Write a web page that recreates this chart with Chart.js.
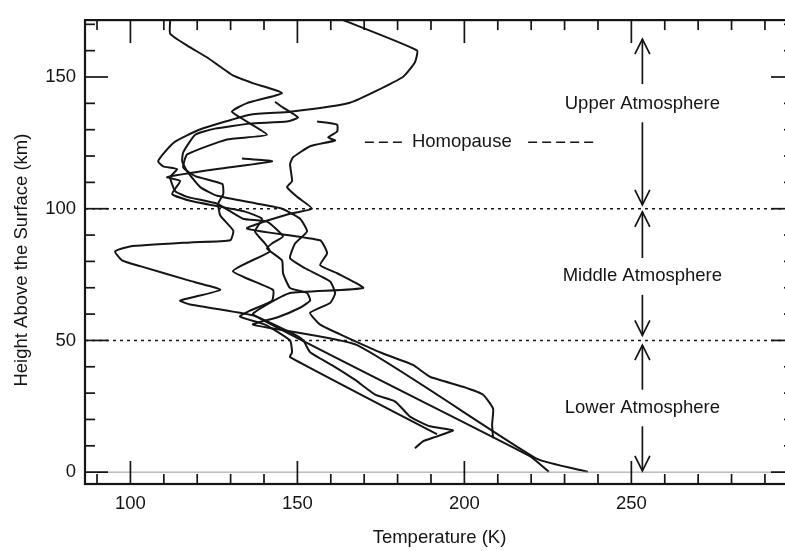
<!DOCTYPE html>
<html>
<head>
<meta charset="utf-8">
<script src="https://cdn.jsdelivr.net/npm/chart.js@4.4.1/dist/chart.umd.min.js"></script>
<style>
  html, body { margin: 0; padding: 0; background: #fff; overflow: hidden; }
  #wrap { position: relative; width: 800px; height: 551px; }
</style>
</head>
<body>
<div id="wrap"><canvas id="chart"></canvas></div>
<script>
// Perfis de temperatura: pares [temperatura (K), altura (km)]
const profileA = [
  [111.9, 171.5], [111.9, 166.4], [117.0, 161.9], [123.0, 157.4], [130.7, 150.6],
  [136.8, 147.6], [145.4, 143.9], [134.9, 140.1], [130.4, 136.8], [140.9, 128.1],
  [128.9, 126.3], [117.0, 120.6], [115.8, 115.7], [119.4, 112.4], [127.5, 109.4],
  [127.8, 105.6], [126.3, 101.9], [126.9, 97.4], [130.8, 91.7], [129.9, 88.0],
  [117.9, 87.2], [99.9, 85.7], [95.4, 83.8], [97.5, 80.4], [102.9, 78.2],
  [117.9, 72.6], [126.9, 69.2], [114.9, 65.1], [117.9, 63.6], [136.7, 59.5],
  [147.8, 53.1], [151.7, 50.1], [153.8, 45.5], [161.3, 39.9], [167.3, 35.0],
  [173.3, 29.4], [179.3, 26.8], [183.7, 21.1], [189.7, 17.4], [196.6, 15.9],
  [191.8, 13.6], [187.6, 11.7], [185.2, 9.1]
];
const profileB = [
  [163.7, 171.6], [185.8, 160.1], [185.2, 155.6], [181.6, 150.0], [165.7, 140.2],
  [147.8, 136.8], [135.8, 135.7], [120.6, 130.0], [113.4, 125.5], [110.4, 121.7],
  [108.3, 118.0], [109.8, 116.1], [114.0, 115.0], [111.9, 112.0], [113.4, 106.7],
  [117.0, 104.5], [126.0, 101.9], [133.7, 96.2], [140.9, 95.1], [145.7, 89.5],
  [142.4, 86.8], [140.9, 84.9], [145.4, 80.4], [145.7, 75.5], [147.8, 69.9],
  [152.9, 68.0], [153.8, 65.1], [150.8, 62.4], [143.9, 58.7], [136.7, 56.0],
  [167.9, 48.2], [221.8, 5.0], [237.0, 0.1]
];
const profileC = [
  [143.3, 140.6], [145.7, 138.4], [150.2, 134.6], [146.9, 133.1], [135.8, 132.3],
  [125.3, 130.4], [119.4, 128.1], [115.8, 121.4], [115.5, 118.0], [117.0, 114.2],
  [120.9, 108.2], [126.0, 104.9], [138.0, 101.9], [145.4, 100.0], [150.8, 96.2],
  [152.9, 91.4], [149.3, 86.8], [147.8, 81.2], [152.3, 77.4], [159.8, 72.4],
  [161.3, 67.9], [159.8, 64.2], [153.8, 60.5], [156.8, 56.0], [162.8, 52.3],
  [166.7, 50.0], [174.7, 45.5], [184.6, 40.7], [189.7, 36.2], [199.6, 32.4],
  [205.6, 29.4], [208.6, 24.1], [208.3, 18.1], [208.6, 12.9]
];
const profileD = [
  [155.9, 133.1], [161.9, 131.9], [161.9, 129.3], [159.2, 127.0], [161.3, 125.9],
  [153.8, 123.7], [148.7, 119.5], [147.8, 116.9], [148.4, 110.5], [146.9, 108.2],
  [149.9, 104.5], [154.4, 100.0], [147.8, 98.1], [134.9, 92.5], [156.8, 88.0],
  [158.9, 83.1], [156.8, 78.6], [161.9, 75.5], [169.7, 69.9], [147.8, 68.0],
  [140.3, 63.2], [136.7, 59.8], [219.6, 6.1], [225.3, 0.1]
];
const profileE = [
  [133.4, 119.1], [142.4, 118.0], [127.8, 115.4], [111.0, 112.0], [114.9, 110.5],
  [112.5, 105.6], [117.9, 103.0], [125.4, 101.1], [134.3, 98.9], [139.4, 96.2],
  [137.3, 91.4], [140.3, 86.8], [141.8, 83.8], [130.7, 76.3], [142.7, 69.2],
  [142.4, 65.1], [135.8, 61.3], [132.8, 59.1], [140.3, 56.0], [147.8, 50.0],
  [148.4, 45.5], [147.8, 43.7], [191.8, 14.4]
];
const profiles = [profileA, profileB, profileC, profileD, profileE];

// Eixos
const xRange = [86.4, 298.7];
const yRange = [-4.5, 171.6];
const xTickValues = [90, 100, 110, 120, 130, 140, 150, 160, 170, 180, 190, 200, 210, 220, 230, 240, 250, 260, 270, 280, 290];
const xTickLabels = [100, 150, 200, 250];
const yTickValues = [0, 10, 20, 30, 40, 50, 60, 70, 80, 90, 100, 110, 120, 130, 140, 150, 160, 170];
const yTickLabels = [0, 50, 100, 150];
const boundaryHeights = [50, 100];

// Anotações (em unidades dos eixos)
const arrowTemp = 253.3;
const layerLabels = ['Upper Atmosphere', 'Middle Atmosphere', 'Lower Atmosphere'];
const layerLabelHeights = [139.7, 74.5, 24.2];
const layerArrows = [
  [147.3, 164.4], [132.8, 101.5],
  [81.3, 98.8], [67.3, 51.9],
  [31.3, 48.2], [17.4, 0.5]
];
const homopauseText = 'Homopause';
const homopauseHeight = 125.2;
const homopauseTextTemp = 184.3;
const homopauseDashes = [[170.2, 181.3], [219.1, 240.0]];
const yTitle = 'Height Above the Surface (km)';
const yTitleHeight = 80.5;

const FONT = '"Liberation Sans", Arial, Helvetica, sans-serif';
const INK = '#151515';

//Plugin que desenha moldura, marcas dos eixos, setas e rótulos
const framePlugin = {
  id: 'frameNotes',
  afterDatasetsDraw(chart) {
    const { ctx, chartArea } = chart;
    const xs = chart.scales.x;
    const ys = chart.scales.y;
    const { left, right, top, bottom } = chartArea;

    const seg = (x1, y1, x2, y2) => {
      ctx.beginPath();
      ctx.moveTo(x1, y1);
      ctx.lineTo(x2, y2);
      ctx.stroke();
    };

    ctx.save();
    ctx.strokeStyle = INK;
    ctx.lineWidth = 1.7;

    xTickValues.forEach(v => {
      const px = xs.getPixelForValue(v);
      const len = xTickLabels.includes(v) ? 23 : 10;
      seg(px, bottom, px, bottom - len);
      seg(px, top, px, top + len);
    });
    yTickValues.forEach(v => {
      const py = ys.getPixelForValue(v);
      const len = yTickLabels.includes(v) ? 23 : 10;
      seg(left, py, left + len, py);
      seg(right, py, right - len, py);
    });

    ctx.lineWidth = 2.2;
    ctx.strokeRect(left, top, right - left, bottom - top);

    //Setas das camadas
    ctx.lineWidth = 1.7;
    const ax = xs.getPixelForValue(arrowTemp);
    layerArrows.forEach(([from, to]) => {
      const y1 = ys.getPixelForValue(from);
      const y2 = ys.getPixelForValue(to);
      const dir = y2 < y1 ? 1 : -1;
      seg(ax, y1, ax, y2);
      ctx.beginPath();
      ctx.moveTo(ax - 7.5, y2 + dir * 15);
      ctx.lineTo(ax, y2);
      ctx.lineTo(ax + 7.5, y2 + dir * 15);
      ctx.stroke();
    });

    ctx.fillStyle = INK;
    ctx.font = '18.5px ' + FONT;
    ctx.textAlign = 'center';
    ctx.textBaseline = 'middle';
    layerLabels.forEach((t, i) => {
      ctx.fillText(t, ax, ys.getPixelForValue(layerLabelHeights[i]));
    });

    //Título do eixo y, girado
    ctx.save();
    ctx.translate(22, ys.getPixelForValue(yTitleHeight));
    ctx.rotate(-Math.PI / 2);
    ctx.fillText(yTitle, 0, 0);
    ctx.restore();

    //Legenda da homopausa
    const hy = ys.getPixelForValue(homopauseHeight);
    ctx.textAlign = 'left';
    ctx.fillText(homopauseText, xs.getPixelForValue(homopauseTextTemp), hy);
    ctx.setLineDash([9, 5]);
    ctx.lineWidth = 1.5;
    homopauseDashes.forEach(([a, b]) => {
      seg(xs.getPixelForValue(a), hy, xs.getPixelForValue(b), hy);
    });
    ctx.restore();
  }
};

const datasets = [];

datasets.push({
  data: [{ x: xRange[0], y: 0 }, { x: xRange[1], y: 0 }],
  borderColor: '#9a9a9a',
  borderWidth: 1
});

boundaryHeights.forEach(h => {
  datasets.push({
    data: [{ x: xRange[0], y: h }, { x: xRange[1], y: h }],
    borderColor: INK,
    borderWidth: 1.6,
    borderDash: [3, 4]
  });
});

profiles.forEach(p => {
  datasets.push({
    data: p.map(([t, h]) => ({ x: t, y: h })),
    borderColor: INK,
    borderWidth: 2,
    tension: 0.15
  });
});

datasets.forEach(ds => {
  ds.showLine = true;
  ds.pointRadius = 0;
  ds.fill = false;
  if (ds.tension == null) ds.tension = 0;
});

new Chart(document.getElementById('chart'), {
  type: 'scatter',
  data: { datasets },
  plugins: [framePlugin],
  options: {
    responsive: true,
    maintainAspectRatio: false,
    animation: false,
    devicePixelRatio: 1,
    layout: { padding: { top: 14, right: 6, bottom: 0, left: 0 } },
    plugins: {
      legend: { display: false },
      tooltip: { enabled: false }
    },
    scales: {
      x: {
        type: 'linear',
        min: xRange[0],
        max: xRange[1],
        grid: { display: false, drawTicks: false },
        border: { display: false },
        afterBuildTicks: s => { s.ticks = xTickLabels.map(v => ({ value: v })); },
        afterFit: s => { s.height = 67; },
        ticks: {
          padding: 9,
          color: INK,
          font: { family: FONT, size: 18.5 },
          maxRotation: 0,
          autoSkip: false
        },
        title: {
          display: true,
          text: 'Temperature (K)',
          color: INK,
          font: { family: FONT, size: 18.5 },
          padding: { top: 0, bottom: 2 }
        }
      },
      y: {
        type: 'linear',
        min: yRange[0],
        max: yRange[1],
        grid: { display: false, drawTicks: false },
        border: { display: false },
        afterBuildTicks: s => { s.ticks = yTickLabels.map(v => ({ value: v })); },
        afterFit: s => { s.width = 85; },
        ticks: {
          padding: 9,
          color: INK,
          font: { family: FONT, size: 18.5 },
          autoSkip: false
        },
        title: { display: false }
      }
    }
  }
});
</script>
</body>
</html>
